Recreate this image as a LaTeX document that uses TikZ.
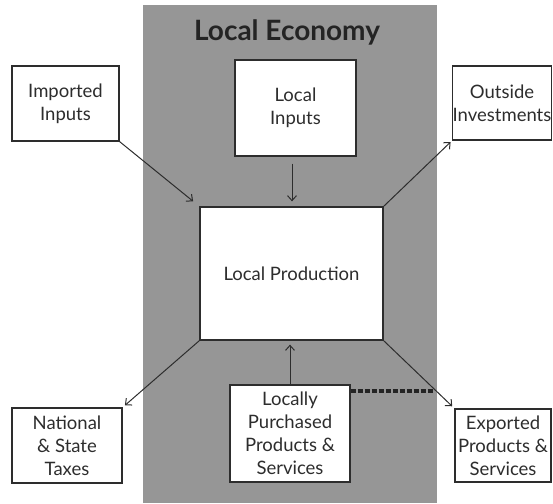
\documentclass[tikz,border=0pt]{standalone}
\usepackage{fontspec}
\setmainfont{Lato}
\usetikzlibrary{arrows.meta,calc}
\definecolor{panel}{RGB}{150,150,150}
\definecolor{ink}{RGB}{45,45,45}
\tikzset{
  box/.style={draw=ink, line width=1.3pt, fill=white, text=ink, align=center,
    font=\fontsize{18.5}{23}\selectfont, inner sep=0pt},
  flow/.style={draw=ink, line width=1pt, -{Straight Barb[length=5pt,width=9pt]}},
  link/.style={draw=ink!80!black, line width=4pt, dash pattern=on 5pt off 2pt}
}
\begin{document}
\begin{tikzpicture}[x=1pt,y=-1pt]
\useasboundingbox (0,0) rectangle (553,503);
\fill[panel] (143,5) rectangle (437,503);
\node[text=ink!80!black, font=\fontsize{28}{32}\selectfont\bfseries] (title) at (287,32) {Local Economy};
\node[box, minimum width=107pt, minimum height=75pt] (imp) at (65.5,103.5) {Imported\\Inputs};
\node[box, minimum width=121pt, minimum height=96pt] (li) at (295.5,108) {Local\\Inputs};
\node[box, minimum width=98pt, minimum height=74pt] (out) at (502,103) {Outside\\Investments};
\node[box, minimum width=183pt, minimum height=133pt] (lp) at (291.5,273.5) {Local Production};
\node[box, minimum width=110pt, minimum height=75pt] (nat) at (67,445.5) {National\\\& State\\Taxes};
\node[box, minimum width=120pt, minimum height=97pt] (loc) at (290,433.5) {Locally\\Purchased\\Products \&\\Services};
\node[box, minimum width=96pt, minimum height=73pt] (exp) at (503,445.5) {Exported\\Products \&\\Services};
\coordinate (dashend) at (434,391);
\draw[link] (loc.east |- dashend) -- (dashend);
\draw[flow, shorten >=8pt] (imp.south east) -- (lp.north west);
\draw[flow, shorten <=7pt, shorten >=5pt] (li.south -| 292,0) -- (lp.north -| 292,0);
\draw[flow, shorten >=2pt] (lp.north east) -- (out.south west);
\draw[flow, shorten >=3pt] (lp.south west) -- (nat.north east);
\draw[flow, shorten >=3pt] (lp.south east) -- (exp.north west);
\draw[flow, shorten >=4pt] (loc.north -| 290,0) -- (lp.south -| 290,0);
\end{tikzpicture}
\end{document}
